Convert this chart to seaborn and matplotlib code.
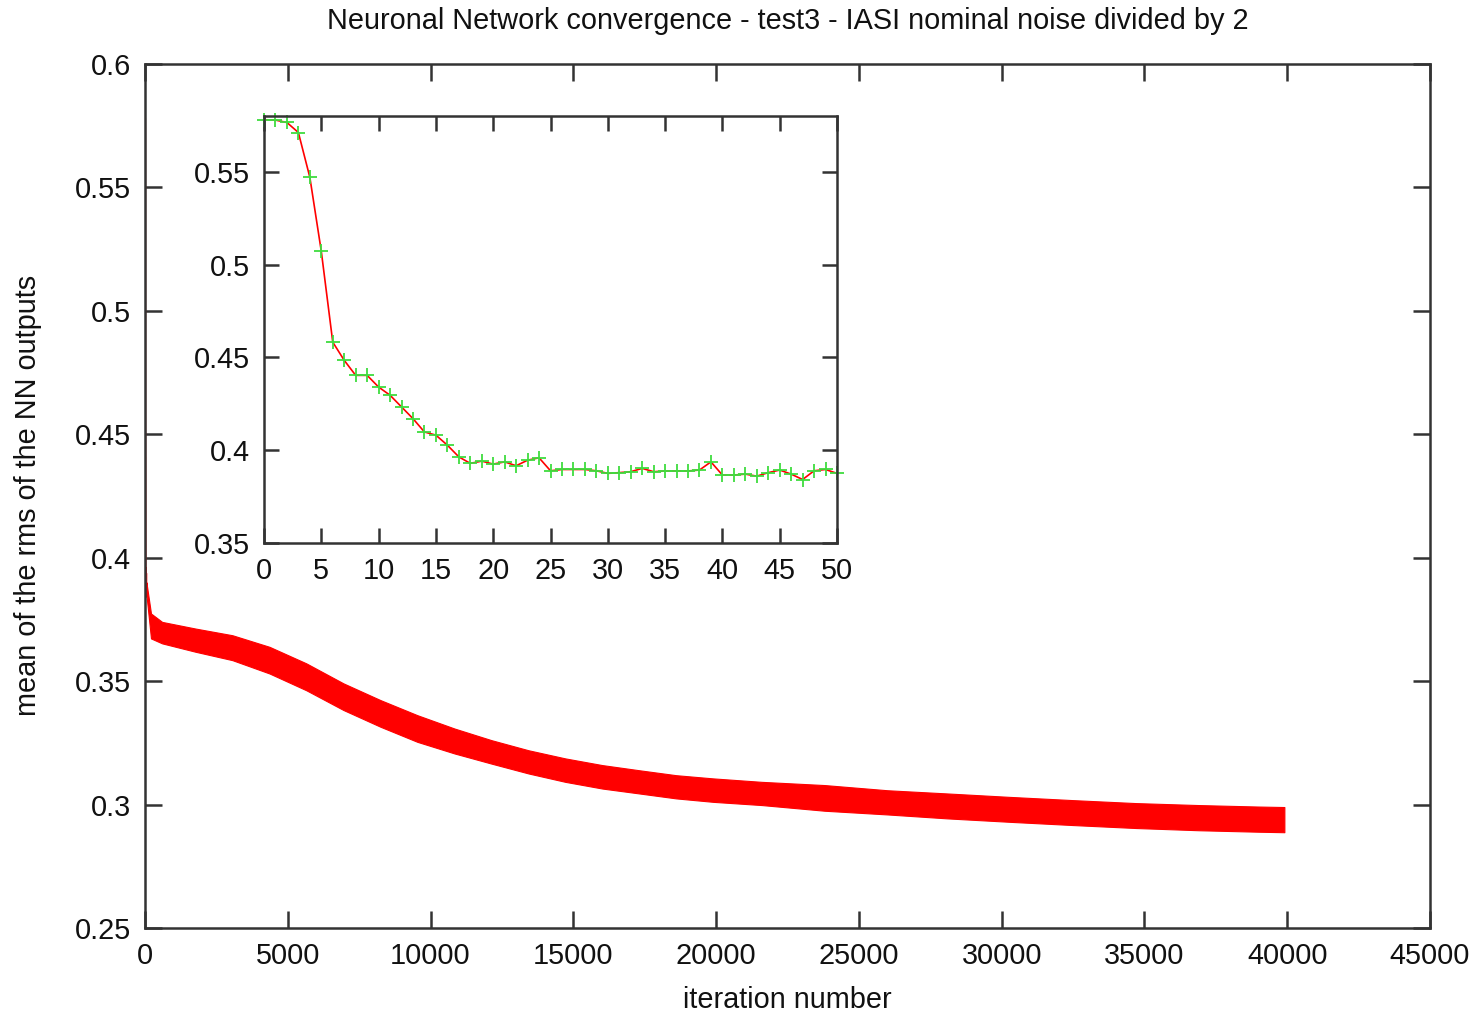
import matplotlib
matplotlib.use("Agg")
import matplotlib.pyplot as plt
from matplotlib.ticker import FuncFormatter
import seaborn as sns

sns.set_theme(style="white")
plt.rcParams['font.family'] = ['Liberation Sans', 'DejaVu Sans']

# First 51 iterations of training (shown in the zoomed inset)
early_iter = list(range(51))
early_rms = [0.578, 0.5778, 0.5765, 0.5711, 0.547, 0.5071, 0.4582, 0.4484, 0.4403, 0.4403,
             0.434, 0.4296, 0.4233, 0.417, 0.4098, 0.4081, 0.4027, 0.3964, 0.3929, 0.3941,
             0.3925, 0.3937, 0.3916, 0.3946, 0.3959, 0.3889, 0.3896, 0.3896, 0.3896, 0.3889,
             0.3875, 0.3879, 0.3884, 0.3902, 0.3884, 0.3888, 0.3888, 0.3888, 0.3893, 0.3937,
             0.3866, 0.3866, 0.3871, 0.386, 0.3879, 0.3893, 0.3871, 0.3842, 0.3889, 0.3896,
             0.3875]

# Spread of the noisy rms over the full run (lower / upper envelope)
band_iter = [50, 210, 600, 1770, 3060, 4360, 5650, 6950, 8250, 9540, 10840, 12130, 13430,
             14720, 16010, 17310, 18600, 19900, 21600, 23800, 26000, 28100, 30300, 32500,
             34700, 36900, 39000, 39900]
band_upper = [0.390, 0.3774, 0.374, 0.3713, 0.3686, 0.3639, 0.3572, 0.3491, 0.3423, 0.3362,
              0.3308, 0.3261, 0.322, 0.3187, 0.316, 0.3139, 0.3119, 0.3106, 0.3092, 0.3079,
              0.3058, 0.3045, 0.3031, 0.3018, 0.3006, 0.2998, 0.2992, 0.2990]
band_lower = [0.385, 0.3673, 0.3653, 0.3619, 0.3585, 0.3531, 0.3463, 0.3383, 0.3315, 0.3254,
              0.3207, 0.3166, 0.3126, 0.3092, 0.3065, 0.3045, 0.3025, 0.3011, 0.2998, 0.2975,
              0.2960, 0.2944, 0.2930, 0.2917, 0.2905, 0.2896, 0.2890, 0.2888]

main_xticks = list(range(0, 45001, 5000))
main_yticks = [0.25, 0.3, 0.35, 0.4, 0.45, 0.5, 0.55, 0.6]
inset_xticks = list(range(0, 51, 5))
inset_yticks = [0.35, 0.4, 0.45, 0.5, 0.55]

W, H = 1477, 1014
fig = plt.figure(figsize=(W / 100, H / 100), dpi=100)
fig.patch.set_facecolor("white")

gfmt = FuncFormatter(lambda v, p: "%g" % v)
spine_col = "#333333"
text_col = "#111111"
fs = 20.8


def style_axes(a, ticklen):
    for s in a.spines.values():
        s.set_color(spine_col)
        s.set_linewidth(1.8)
    a.tick_params(direction="in", length=ticklen, width=1.8, color=spine_col,
                  top=True, right=True, bottom=True, left=True,
                  labelsize=fs, labelcolor=text_col, pad=10)
    a.xaxis.set_major_formatter(gfmt)
    a.yaxis.set_major_formatter(gfmt)
    a.grid(False)
    a.set_facecolor("white")


# Main axes: full training run
ax = fig.add_axes([145 / W, 1 - 928 / H, (1430 - 145) / W, (928 - 64) / H])
sns.lineplot(x=early_iter, y=early_rms, ax=ax, color="red", lw=1.5)
ax.fill_between(band_iter, band_lower, band_upper, color="red", lw=0.8, edgecolor="red")
ax.set_xlim(0, 45000)
ax.set_ylim(0.25, 0.6)
ax.set_xticks(main_xticks)
ax.set_yticks(main_yticks)
ax.set_xlabel("")
ax.set_ylabel("")
style_axes(ax, 12)

# Inset: first 50 iterations
ins = fig.add_axes([264 / W, 1 - 543 / H, (837 - 264) / W, (543 - 116) / H])
sns.lineplot(x=early_iter, y=early_rms, ax=ins, color="red", lw=1.2, clip_on=False,
             marker="+", markersize=10, markeredgecolor="#3fdc3f", markeredgewidth=1.3)
ins.set_xlim(0, 50)
ins.set_ylim(0.35, 0.58)
ins.set_xticks(inset_xticks)
ins.set_yticks(inset_yticks)
ins.set_xlabel("")
ins.set_ylabel("")
style_axes(ins, 11)

cx = (145 + 1430) / 2 / W
fig.text(cx, 1 - 21 / H, "Neuronal Network convergence - test3 - IASI nominal noise divided by 2",
         ha="center", va="center", fontsize=fs, color=text_col)
fig.text(cx, 1 - 1000 / H, "iteration number", ha="center", va="center",
         fontsize=fs, color=text_col)
fig.text(28 / W, 1 - 495 / H, "mean of the rms of the NN outputs", ha="center", va="center",
         rotation=90, fontsize=fs, color=text_col)

fig.savefig("out.png", dpi=100, facecolor="white")
